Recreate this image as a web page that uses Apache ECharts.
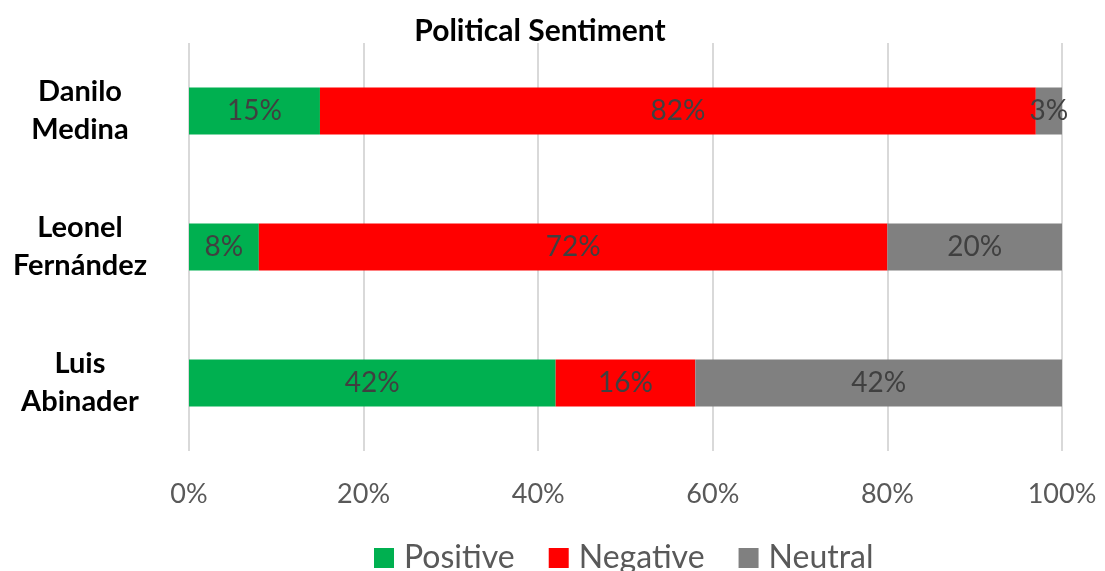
<!DOCTYPE html>
<html>
<head>
<meta charset="utf-8">
<script src="https://cdn.jsdelivr.net/npm/echarts@6/dist/echarts.min.js"></script>
<style>
  html, body { margin: 0; padding: 0; background: #fff; }
  #chart { width: 1105px; height: 571px; }
</style>
</head>
<body>
<div id="chart"></div>
<script>
// 数据：从下到上的类目顺序
const candidates = ['Luis\nAbinader', 'Leonel\nFernández', 'Danilo\nMedina'];
const positive = [42, 8, 15];
const negative = [16, 72, 82];
const neutral = [42, 20, 3];
const xTicks = [0, 20, 40, 60, 80, 100];

const FONT = 'Lato, "Open Sans", sans-serif';

function barSeries(name, data, color) {
    return {
        name: name,
        type: 'bar',
        stack: 'total',
        data: data,
        barWidth: 47,
        itemStyle: { color: color },
        label: {
            show: true,
            position: 'inside',
            formatter: '{c}%',
            color: '#404040',
            fontFamily: FONT,
            fontSize: 28
        }
    };
}

const chart = echarts.init(document.getElementById('chart'));
chart.setOption({
    animation: false,
    title: {
        text: 'Political Sentiment',
        left: 535,
        top: 11,
        textAlign: 'center',
        textStyle: { fontFamily: FONT, fontWeight: 'bold', fontSize: 30, color: '#000' }
    },
    legend: {
        top: 537,
        left: 369,
        itemWidth: 20,
        itemHeight: 20,
        itemGap: 34,
        icon: 'rect',
        textStyle: { fontFamily: FONT, fontSize: 32, color: '#595959', padding: [0, 0, 0, 5] }
    },
    grid: { left: 189, right: 43, top: 43, bottom: 120 },
    xAxis: {
        type: 'value',
        min: xTicks[0],
        max: xTicks[xTicks.length - 1],
        interval: 20,
        axisLine: { show: false },
        axisTick: { show: false },
        splitLine: { lineStyle: { color: '#d9d9d9', width: 2 } },
        axisLabel: {
            formatter: '{value}%',
            margin: 30,
            fontFamily: FONT,
            fontSize: 27,
            color: '#595959'
        }
    },
    yAxis: {
        type: 'category',
        data: candidates,
        axisLine: { show: false },
        axisTick: { show: false },
        axisLabel: {
            margin: 109,
            align: 'center',
            lineHeight: 38,
            fontFamily: FONT,
            fontWeight: 'bold',
            fontSize: 29,
            color: '#000'
        }
    },
    series: [
        barSeries('Positive', positive, '#00b050'),
        barSeries('Negative', negative, '#ff0000'),
        barSeries('Neutral', neutral, '#808080')
    ]
});
</script>
</body>
</html>
